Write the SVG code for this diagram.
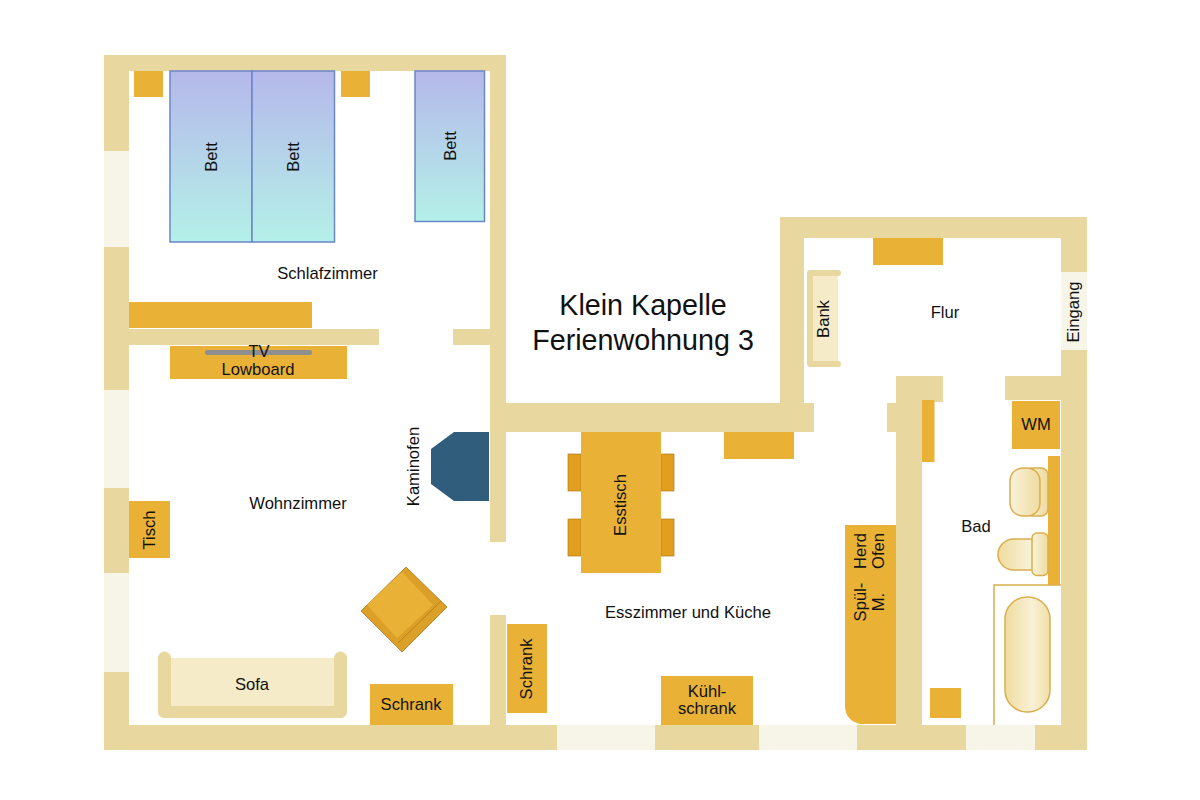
<svg xmlns="http://www.w3.org/2000/svg" width="1200" height="800" viewBox="0 0 1200 800">
<defs>
<style>
.w{fill:#e9d7a0}.g{fill:#f7f4e8}.f{fill:#e9b237}.c{fill:#e29f1f;stroke:#b07d1d;stroke-width:.7}
.b{fill:url(#bed);stroke:#6b86c6;stroke-width:1.5}
.s{fill:#f5ebc8}
.fx{stroke:#d9ae4d;stroke-width:1.5}
text{font-family:"Liberation Sans",Arial,sans-serif;font-size:16.6px;fill:#111;text-anchor:middle}
.t{font-size:28.7px}
</style>
<linearGradient id="bed" x1="0" y1="0" x2="0" y2="1"><stop offset="0" stop-color="#b5b8ea"/><stop offset="1" stop-color="#b4f0e8"/></linearGradient>
<linearGradient id="tub" x1="0" y1="0" x2="1" y2="0"><stop offset="0" stop-color="#f0dc9e"/><stop offset=".6" stop-color="#f8f1d6"/><stop offset="1" stop-color="#f1dfa8"/></linearGradient>
<linearGradient id="wc" x1="0" y1="0" x2="1" y2="0"><stop offset="0" stop-color="#f9f3da"/><stop offset="1" stop-color="#efdba0"/></linearGradient>
<linearGradient id="wc2" x1="0" y1="0" x2="1" y2="0"><stop offset="0" stop-color="#f0dca0"/><stop offset="1" stop-color="#f9f3da"/></linearGradient>
</defs>
<rect width="1200" height="800" fill="#fff"/>
<g id="walls">
<rect class="w" x="104" y="55" width="402" height="16"/>
<rect class="w" x="104" y="55" width="25" height="96"/>
<rect class="g" x="104" y="151" width="25" height="96"/>
<rect class="w" x="104" y="247" width="25" height="143"/>
<rect class="g" x="104" y="390" width="25" height="98"/>
<rect class="w" x="104" y="488" width="25" height="85"/>
<rect class="g" x="104" y="573" width="25" height="99"/>
<rect class="w" x="104" y="672" width="25" height="78"/>
<rect class="w" x="104" y="725" width="453" height="25"/>
<rect class="g" x="557" y="725" width="98" height="25"/>
<rect class="w" x="655" y="725" width="104" height="25"/>
<rect class="g" x="759" y="725" width="98" height="25"/>
<rect class="w" x="857" y="725" width="109" height="25"/>
<rect class="g" x="966" y="725" width="69" height="25"/>
<rect class="w" x="1035" y="725" width="52" height="25"/>
<rect class="w" x="490" y="55" width="16" height="487"/>
<rect class="w" x="490" y="615" width="16" height="110"/>
<rect class="w" x="129" y="329" width="250" height="16"/>
<rect class="w" x="453" y="329" width="37" height="16"/>
<rect class="w" x="506" y="403" width="308" height="29"/>
<rect class="w" x="780" y="217" width="24" height="186"/>
<rect class="w" x="780" y="217" width="307" height="21"/>
<rect class="w" x="1061" y="217" width="26" height="55"/>
<rect class="g" x="1061" y="272" width="26" height="78"/>
<rect class="w" x="1061" y="350" width="26" height="375"/>
<rect class="w" x="896" y="376" width="47" height="26"/>
<rect class="w" x="896" y="376" width="26" height="349"/>
<rect class="w" x="887" y="403" width="9" height="29"/>
<rect class="w" x="1005" y="376" width="56" height="24"/>
</g>
<g id="schlafzimmer">
<rect class="f" x="134" y="71" width="29" height="26"/>
<rect class="f" x="341" y="71" width="29" height="26"/>
<rect class="b" x="170" y="71" width="82" height="171"/>
<rect class="b" x="252" y="71" width="82.500" height="171"/>
<rect class="b" x="415" y="71" width="69.500" height="150.500"/>
<rect class="f" x="129" y="302" width="183" height="26"/>
<text transform="translate(217,157) rotate(-90)">Bett</text>
<text transform="translate(299,157) rotate(-90)">Bett</text>
<text transform="translate(456,146) rotate(-90)">Bett</text>
<text x="327.500" y="279">Schlafzimmer</text>
</g>
<g id="wohnzimmer">
<rect class="f" x="170" y="346" width="177" height="33"/>
<rect x="205" y="350" width="107" height="5" rx="2" fill="#8f8f8f"/>
<text x="259" y="357">TV</text>
<text x="258" y="375">Lowboard</text>
<polygon points="431,449 454,432 489,432 489,501 454,501 431,484" fill="#305d7c"/>
<text transform="translate(419,466.500) rotate(-90)">Kaminofen</text>
<text x="298" y="509">Wohnzimmer</text>
<rect class="f" x="129" y="501" width="41" height="57"/>
<text transform="translate(155,530) rotate(-90)">Tisch</text>
<g id="sessel">
<polygon points="406,567 447,607 402,652 361,611" fill="#dc9f27" stroke="#a87a1e" stroke-width=".8"/>
<polygon points="402,572 433,605 397,638 367,605" fill="#e9b237"/>
<path d="M441 601L398 643" stroke="#a87a1e" stroke-width=".8" fill="none"/>
</g>
<path fill="#e9d7a0" d="M158 658a6.500 6.500 0 0 1 13 0V706H334V658a6.500 6.500 0 0 1 13 0V712a6 6 0 0 1-6 6H164a6 6 0 0 1-6-6Z"/>
<rect class="s" x="171" y="658" width="163" height="48"/>
<text x="252" y="690">Sofa</text>
<rect class="f" x="370" y="684" width="83" height="41"/>
<text x="411" y="710">Schrank</text>
</g>
<g id="kueche">
<rect class="f" x="507" y="624" width="40" height="89"/>
<text transform="translate(532,669) rotate(-90)">Schrank</text>
<rect class="c" x="568" y="454" width="13" height="37"/>
<rect class="c" x="568" y="519" width="13" height="37"/>
<rect class="c" x="661" y="454" width="13" height="37"/>
<rect class="c" x="661" y="519" width="13" height="37"/>
<rect class="f" x="581" y="432" width="80" height="141"/>
<text transform="translate(626,505) rotate(-90)">Esstisch</text>
<rect class="f" x="724" y="432" width="70" height="27"/>
<text x="688" y="618">Esszimmer und Küche</text>
<rect class="f" x="661" y="676" width="92" height="49"/>
<text x="707" y="697">Kühl-</text>
<text x="707" y="714">schrank</text>
<path class="f" d="M845 525H896V724H860Q845 720 845 706Z"/>
<text transform="translate(866,551) rotate(-90)">Herd</text>
<text transform="translate(884,551) rotate(-90)">Ofen</text>
<text transform="translate(866,602) rotate(-90)">Spül-</text>
<text transform="translate(884,602) rotate(-90)">M.</text>
</g>
<g id="flur">
<rect class="f" x="873" y="238" width="70" height="27"/>
<path fill="#e9d7a0" d="M807 273a3 3 0 0 1 3-3H838a3 3 0 0 1 0 6H813V361H838a3 3 0 0 1 0 6H810a3 3 0 0 1-3-3Z"/>
<rect class="s" x="813" y="276" width="25" height="85"/>
<text transform="translate(829,319) rotate(-90)">Bank</text>
<text x="945" y="318">Flur</text>
<text transform="translate(1079,312) rotate(-90)">Eingang</text>
</g>
<g id="bad">
<rect class="f" x="922" y="400" width="12.500" height="62"/>
<rect class="f" x="1012" y="401" width="48" height="48"/>
<text x="1036" y="430">WM</text>
<rect class="f" x="1048" y="456" width="12" height="129"/>
<rect class="fx" x="1025" y="468" width="23" height="48" rx="7" fill="url(#wc)"/>
<rect class="fx" x="1010" y="468" width="30" height="48" rx="13" fill="url(#wc)"/>
<path class="fx" fill="url(#wc2)" d="M1033 539H1014a16 15.500 0 0 0 0 31H1033Z"/>
<rect class="fx" x="1032" y="533" width="16" height="42.500" rx="5" fill="url(#wc)"/>
<path d="M994 725V585H1061" fill="none" stroke="#d9ae4d" stroke-width="1.500"/>
<rect class="fx" x="1005" y="597" width="45" height="115" rx="22" fill="url(#tub)"/>
<rect class="f" x="930" y="688" width="31" height="30"/>
<text x="976" y="532">Bad</text>
</g>
<g id="titel">
<text class="t" x="643" y="315">Klein Kapelle</text>
<text class="t" x="643" y="350">Ferienwohnung 3</text>
</g>
</svg>
